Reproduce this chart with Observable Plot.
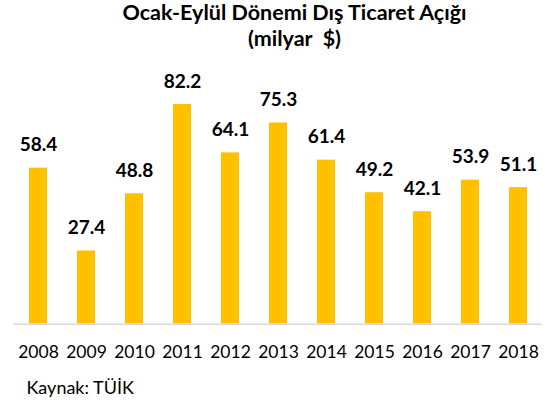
<!DOCTYPE html>
<html><head><meta charset="utf-8">
<script src="https://cdn.jsdelivr.net/npm/d3@7"></script>
<script src="https://cdn.jsdelivr.net/npm/@observablehq/plot@0.6"></script>
<style>
body{margin:0;background:#fff;font-family:Lato,sans-serif;color:#000;}
#title{position:absolute;left:0;top:-1.3px;width:552px;padding-left:37px;box-sizing:border-box;text-align:center;font-weight:bold;font-size:21.5px;line-height:26px;white-space:nowrap;}
#chart{position:absolute;left:0;top:60px;}
#caption{position:absolute;left:26.5px;top:376px;font-size:18px;line-height:22px;white-space:nowrap;}
</style></head><body>
<div id="title">Ocak-Eylül Dönemi Dış Ticaret Açığı<br>(milyar&nbsp; $)</div>
<div id="chart"></div>
<div id="caption">Kaynak: TÜİK</div>
<script>
const years = ["2008","2009","2010","2011","2012","2013","2014","2015","2016","2017","2018"];
const values = [58.4, 27.4, 48.8, 82.2, 64.1, 75.3, 61.4, 49.2, 42.1, 53.9, 51.1];
const data = years.map((year, i) => ({year, value: values[i]}));
const chart = Plot.plot({
  width: 552, height: 300,
  marginLeft: 13.3, marginRight: 10, marginTop: 23.2, marginBottom: 36.3,
  x: {domain: years, paddingInner: 0.62, paddingOuter: 0.31, label: null, axis: null},
  y: {domain: [0, 90], axis: null},
  style: {fontFamily: "Lato", fontSize: "17.5px", color: "#000", background: "#fff", overflow: "visible"},
  marks: [
    Plot.barY(data, {x: "year", y: "value", fill: "#FFC000"}),
    Plot.ruleY([0], {stroke: "#d9d9d9", strokeWidth: 1.5}),
    Plot.text(data, {x: "year", y: "value", text: d => d.value.toFixed(1), dy: -23, lineAnchor: "middle", fontWeight: "bold", fontSize: 19, fill: "#000"}),
    Plot.axisX({tickSize: 0, tickPadding: 21, fontSize: 17.5, fill: "#000", label: null})
  ]
});
document.getElementById("chart").appendChild(chart);
</script>
</body></html>
